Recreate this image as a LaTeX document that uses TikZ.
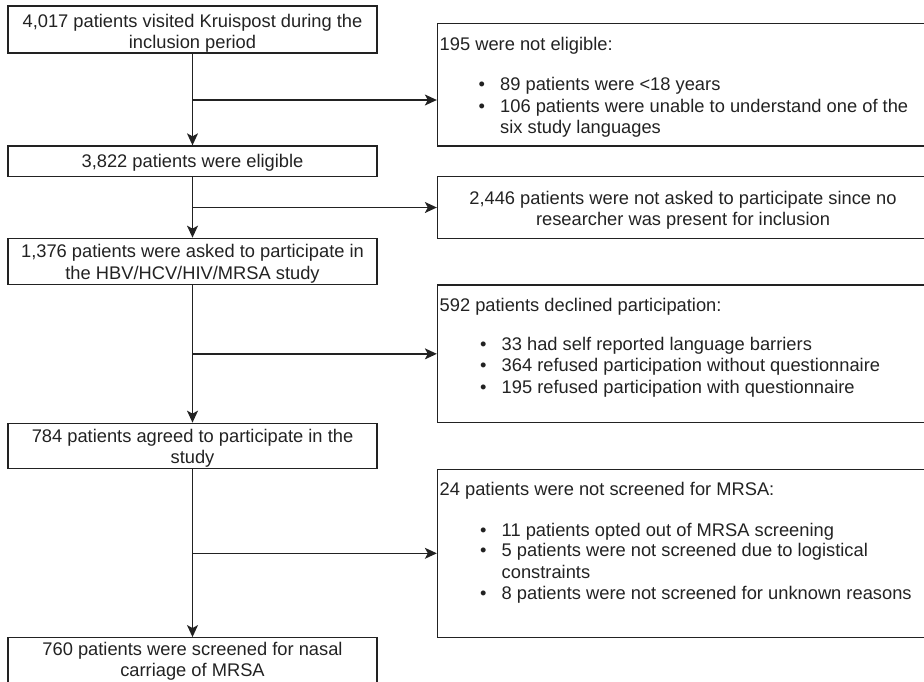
\documentclass[tikz,border=0pt]{standalone}
\usepackage{fontspec}
\setmainfont{Liberation Sans}
\usetikzlibrary{arrows.meta}
\definecolor{ink}{RGB}{34,34,34}
\begin{document}
\begin{tikzpicture}[x=1pt,y=-1pt,
  frame/.style={draw=ink, line width=1.3pt, inner sep=0pt, fill=none},
  leftbox/.style={frame, minimum width=369pt},
  sidebox/.style={frame, minimum width=490.5pt},
  txt/.style={inner sep=0pt, font=\fontsize{18.3}{21}\selectfont, text=ink},
  flow/.style={draw=ink, line width=1.3pt, -{Stealth[length=12pt,width=11pt,inset=3pt]}}]
\newcommand{\bulletitem}[4]{\node[txt, anchor=base west] (#1) at (#2,#3) {\makebox[21.5pt][l]{•}#4};}

\useasboundingbox (0,0) rectangle (924,681);
\clip (0,0) rectangle (924,681);

% main column
\node[leftbox, minimum height=47pt]   (b1) at (192.5,29.5)   {};
\node[leftbox, minimum height=30.7pt] (b2) at (192.5,161.35) {};
\node[leftbox, minimum height=46pt]   (b3) at (192.5,261.3)  {};
\node[leftbox, minimum height=45pt]   (b4) at (192.5,445.8)  {};
\node[leftbox, minimum height=47.3pt] (b5) at (192.5,661.35) {};

\node[txt, anchor=base] (t1a) at (192.5,27.3)  {4,017 patients visited Kruispost during the};
\node[txt, anchor=base] (t1b) at (192.5,48.3)  {inclusion period};
\node[txt, anchor=base] (t2)  at (192.5,167)   {3,822 patients were eligible};
\node[txt, anchor=base] (t3a) at (192.5,257.7) {1,376 patients were asked to participate in};
\node[txt, anchor=base] (t3b) at (192.5,279)   {the HBV/HCV/HIV/MRSA study};
\node[txt, anchor=base] (t4a) at (192.5,442.7) {784 patients agreed to participate in the};
\node[txt, anchor=base] (t4b) at (192.5,463.3) {study};
\node[txt, anchor=base] (t5a) at (192.5,655)   {760 patients were screened for nasal};
\node[txt, anchor=base] (t5b) at (192.5,676.7) {carriage of MRSA};

% exclusion boxes
\node[sidebox, minimum height=122.7pt] (rA) at (682.75,84.65)  {};
\node[sidebox, minimum height=61.6pt]  (rB) at (682.75,207.5)  {};
\node[sidebox, minimum height=137.7pt] (rC) at (682.75,353.85) {};
\node[sidebox, minimum height=168pt]   (rD) at (682.75,553.3)  {};

\node[txt, anchor=base west] (hA) at (439.5,50) {195 were not eligible:};
\bulletitem{iA1}{478.5}{90.7}{89 patients were <18 years}
\bulletitem{iA2}{478.5}{112}{106 patients were unable to understand one of the}
\node[txt, anchor=base west] (iA2b) at (500,133) {six study languages};

\node[txt, anchor=base] (tBa) at (683,204.3) {2,446 patients were not asked to participate since no};
\node[txt, anchor=base] (tBb) at (683,225)   {researcher was present for inclusion};

\node[txt, anchor=base west] (hC) at (439.5,311.7) {592 patients declined participation:};
\bulletitem{iC1}{480}{350.7}{33 had self reported language barriers}
\bulletitem{iC2}{480}{371.8}{364 refused participation without questionnaire}
\bulletitem{iC3}{480}{393}{195 refused participation with questionnaire}

\node[txt, anchor=base west] (hD) at (439.5,495) {24 patients were not screened for MRSA:};
\bulletitem{iD1}{480}{536}{11 patients opted out of MRSA screening}
\bulletitem{iD2}{480}{556.9}{5 patients were not screened due to logistical}
\node[txt, anchor=base west] (iD2b) at (501.5,578.1) {constraints};
\bulletitem{iD3}{480}{599.3}{8 patients were not screened for unknown reasons}

% connectors
\coordinate (j1) at (192.5,100);
\coordinate (j2) at (192.5,207.5);
\coordinate (j3) at (192.5,353.85);
\coordinate (j4) at (192.5,553.3);

\draw[flow] (b1.south) -- (b2.north);
\draw[flow] (b2.south) -- (b3.north);
\draw[flow] (b3.south) -- (b4.north);
\draw[flow] (b4.south) -- (b5.north);
\draw[flow] (j1) -- (j1 -| rA.west);
\draw[flow] (j2) -- (j2 -| rB.west);
\draw[flow] (j3) -- (j3 -| rC.west);
\draw[flow] (j4) -- (j4 -| rD.west);
\end{tikzpicture}
\end{document}
